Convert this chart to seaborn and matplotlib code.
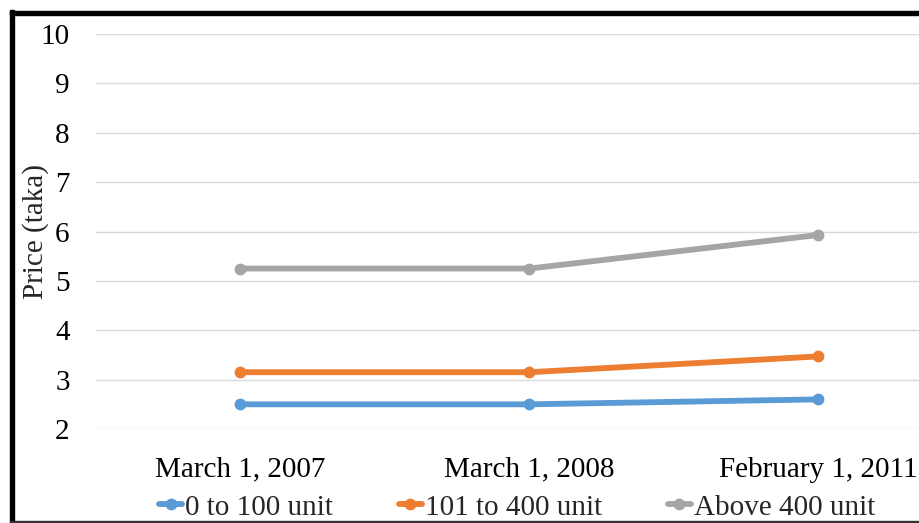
import matplotlib
matplotlib.use("Agg")
import matplotlib.pyplot as plt
import seaborn as sns
import pandas as pd
from matplotlib.lines import Line2D
from matplotlib.patches import Rectangle

dates = ["March 1, 2007", "March 1, 2008", "February 1, 2011"]
series = ["0 to 100 unit", "101 to 400 unit", "Above 400 unit"]
vals_0_100 = [2.50, 2.50, 2.60]
vals_101_400 = [3.15, 3.15, 3.47]
vals_above_400 = [5.25, 5.25, 5.93]
colors = ["#5B9BD5", "#ED7D31", "#A5A5A5"]
yticks = [2, 3, 4, 5, 6, 7, 8, 9, 10]

rows = []
for name, vals in zip(series, [vals_0_100, vals_101_400, vals_above_400]):
    for d, v in zip(dates, vals):
        rows.append({"date": d, "series": name, "price": v})
df = pd.DataFrame(rows)

sns.set_theme(style="white")
plt.rcParams["font.family"] = ["Liberation Serif", "DejaVu Serif"]

fig = plt.figure(figsize=(9.2, 5.23), dpi=100)
ax = fig.add_axes([96/920, (523-429)/523, 867/920, (429-34)/523])

sns.lineplot(data=df, x="date", y="price", hue="series", hue_order=series,
             palette=colors, marker="o", markersize=8.5, markeredgewidth=0,
             linewidth=4.2, ax=ax, legend=False, sort=False)

ax.set_xlim(-0.5, 2.5)
ax.set_ylim(2, 10)
ax.set_yticks(yticks)
ax.set_yticklabels([str(t) for t in yticks])
ax.grid(axis="y", color="#D9D9D9", linewidth=1)
ax.set_axisbelow(True)
for s in ax.spines.values():
    s.set_visible(False)
ax.tick_params(axis="both", length=0, labelsize=21, colors="black")
ax.tick_params(axis="y", pad=19)
ax.tick_params(axis="x", pad=20)
ax.set_xlabel("")
ax.set_ylabel("Price (taka)", fontsize=21, va="center")
ax.yaxis.set_label_coords(-0.07, 0.5)

handles = [Line2D([0], [0], color=c, linewidth=4.2, marker="o", markersize=8.5,
                  markeredgewidth=0) for c in colors]
fig.legend(handles, series, loc="center", bbox_to_anchor=(0.562, 0.03), ncol=3,
           frameon=False, fontsize=21, handlelength=0.8, handletextpad=0.1,
           columnspacing=2.25, borderpad=0)

# frame
fig.patches.append(Rectangle((0.0109, 0.0), 0.0045, 0.98, transform=fig.transFigure,
                             color="black", zorder=10))
fig.patches.append(Rectangle((0.0109, 0.972), 0.99, 0.0078, transform=fig.transFigure,
                             color="black", zorder=10))
fig.patches.append(Rectangle((0.0109, 0.0), 0.99, 0.003, transform=fig.transFigure,
                             color="#333333", zorder=10))

fig.savefig("out.png", dpi=100)
